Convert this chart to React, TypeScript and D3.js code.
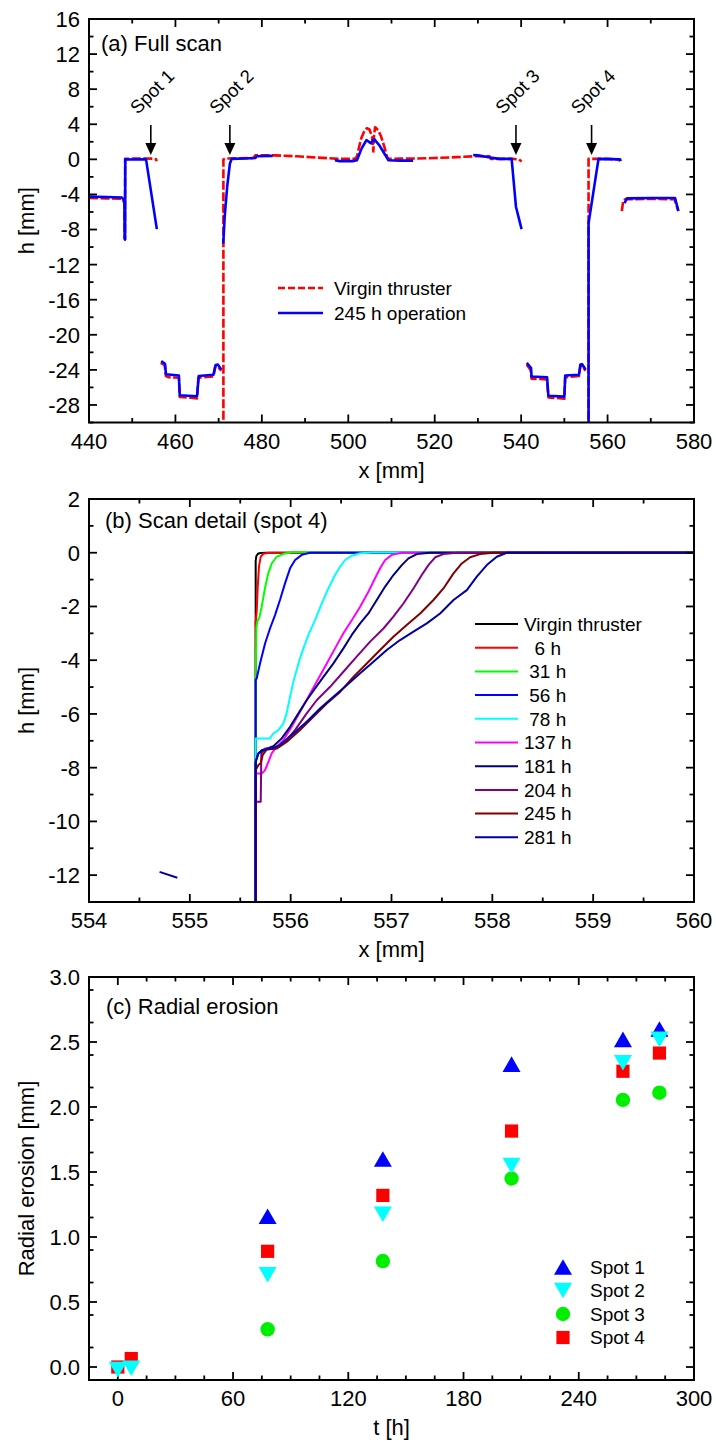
import React from 'react';
import * as d3 from 'd3';

type Pt = [number, number];

// ---------------- Panel (a): full scan ----------------
const scanXTicks = [440, 460, 480, 500, 520, 540, 560, 580];
const scanHTicks = [16, 12, 8, 4, 0, -4, -8, -12, -16, -20, -24, -28];
const scanXDomain: Pt = [440, 580];
const scanHDomain: Pt = [-30, 16];

const virginScan: Pt[][] = [
  [[440, -4.4], [444, -4.45], [447.6, -4.5], [448.0, -4.75], [448.2, -5.0], [448.25, -9.0], [448.32, -9.1], [448.35, 0.05], [450, 0.08], [453, 0.1], [455, 0.08], [455.5, 0.0], [455.7, -0.2]],
  [[456.6, -23.2], [457.5, -23.45], [457.8, -24.7], [458.5, -24.85], [460.8, -24.9], [461.0, -27.1], [463, -27.15], [465.0, -27.25], [465.3, -24.9], [468.8, -24.75], [469.2, -23.65], [469.8, -23.6], [470.6, -24.1]],
  [[471.1, -31], [471.1, 0.0], [471.6, 0.1], [478, 0.15], [478.5, 0.45], [483, 0.45], [488, 0.35], [493, 0.2], [498, 0.05], [501.5, 0.05], [502.0, 0.3], [502.4, 1.2], [503.0, 2.4], [503.7, 3.2], [504.3, 3.55], [504.9, 3.4], [505.5, 2.6], [505.8, 0.9], [505.95, 2.7], [506.2, 3.65], [506.9, 3.35], [507.6, 2.6], [508.3, 1.5], [508.9, 0.4], [509.2, 0.05], [512, 0.1], [516, 0.1], [520, 0.15], [525, 0.25], [529, 0.35], [532.7, 0.35], [533, 0.05], [538, 0.05], [539.5, 0.0], [540.1, -0.25]],
  [[541.3, -23.4], [542.2, -24.0], [542.4, -25.0], [546.0, -25.1], [546.3, -27.15], [548, -27.2], [550.0, -27.3], [550.2, -24.85], [553.4, -24.7], [553.7, -23.6], [554.1, -23.5], [554.9, -24.1]],
  [[555.6, -31], [555.6, 0.05], [557, 0.05], [560, 0.05], [562.5, 0.0], [562.9, -0.2]],
  [[563.3, -5.9], [563.6, -4.8], [564.0, -4.55], [570, -4.5], [575.5, -4.55], [576.3, -5.8]],
];

const operatedScan: Pt[][] = [
  [[440, -4.25], [444, -4.3], [447.6, -4.35], [448.0, -4.6], [448.2, -4.9], [448.25, -9.0], [448.35, -9.15], [448.4, 0.0], [450, -0.02], [453.2, 0.0], [455.7, -7.95]],
  [[456.7, -23.0], [457.6, -23.3], [457.8, -24.5], [460.8, -24.65], [461.0, -26.9], [465.0, -27.0], [465.4, -24.7], [468.8, -24.55], [469.3, -23.45], [469.8, -23.4], [470.6, -23.95]],
  [[471.05, -9.6], [471.2, -8.5], [471.4, -6.5], [472.0, -3.0], [472.6, -0.5], [473.0, 0.05], [476, 0.1], [478.5, 0.15], [478.8, 0.35], [482.5, 0.4]],
  [[496.9, -0.1], [498, -0.2], [501, -0.2], [502, -0.1], [503.1, 1.25], [504.2, 2.2], [505.2, 1.85], [506.0, 2.3], [507.2, 1.6], [508.1, 0.87], [509.3, -0.1], [512, -0.15], [515, -0.15]],
  [[528.9, 0.5], [530, 0.45], [532.8, 0.2], [535, 0.05], [537.8, 0.05], [538.8, -5.4], [540.1, -7.95]],
  [[541.3, -23.2], [542.3, -23.8], [542.4, -24.75], [546.0, -24.85], [546.3, -26.95], [550.0, -27.05], [550.2, -24.65], [553.4, -24.55], [553.7, -23.4], [554.1, -23.35], [554.9, -23.95]],
  [[555.6, -31], [555.6, -7.3], [557.9, 0.05], [562.9, 0.0], [563.05, -0.2]],
  [[563.9, -5.0], [564.5, -4.45], [570, -4.4], [575.6, -4.4], [576.4, -5.9]],
];

const spotNames = ['Spot 1', 'Spot 2', 'Spot 3', 'Spot 4'];
const spotPositions = [454.3, 472.6, 538.8, 556.3];
const scanLegend = ['Virgin thruster', '245 h operation'];

// ---------------- Panel (b): scan detail ----------------
const detailXTicks = [554, 555, 556, 557, 558, 559, 560];
const detailHTicks = [2, 0, -2, -4, -6, -8, -10, -12];
const detailXDomain: Pt = [554, 560];
const detailHDomain: Pt = [-13, 2];

const detailLabels = ['Virgin thruster', '  6 h', ' 31 h', ' 56 h', ' 78 h', '137 h', '181 h', '204 h', '245 h', '281 h'];
const detailColors = ['#000000', '#ff0000', '#00ff00', '#0000ff', '#00ffff', '#ff00ff', '#000080', '#800080', '#800000', '#0000a0'];

const profileVirgin: Pt[] = [[555.653, -13.5], [555.653, -0.3], [555.66, -0.12], [555.675, -0.04], [555.7, -0.01], [555.76, 0], [560, 0]];
const profile6: Pt[] = [[555.653, -13.5], [555.653, -2.57], [555.663, -2.2], [555.673, -1.3], [555.686, -0.5], [555.703, -0.15], [555.729, -0.04], [555.78, 0], [560, 0]];
const profile31: Pt[] = [[555.653, -13.5], [555.653, -4.74], [555.66, -2.8], [555.67, -2.55], [555.69, -2.4], [555.713, -2.0], [555.746, -1.3], [555.779, -0.75], [555.812, -0.4], [555.861, -0.15], [555.93, -0.04], [556.03, 0.03], [556.2, 0.01], [560, 0]];
const profile56: Pt[] = [[555.653, -13.5], [555.653, -4.74], [555.663, -4.68], [555.696, -4.12], [555.746, -3.38], [555.795, -2.82], [555.845, -2.32], [555.894, -1.76], [555.944, -1.14], [555.994, -0.58], [556.044, -0.27], [556.11, -0.08], [556.19, 0], [560, 0]];
const profile78: Pt[] = [[555.653, -13.5], [555.653, -6.91], [555.795, -6.91], [555.828, -6.73], [555.878, -6.6], [555.927, -6.36], [555.96, -5.98], [555.994, -5.36], [556.027, -4.8], [556.077, -4.12], [556.126, -3.56], [556.176, -3.06], [556.242, -2.51], [556.308, -1.89], [556.374, -1.33], [556.44, -0.83], [556.49, -0.52], [556.54, -0.27], [556.606, -0.11], [556.689, -0.02], [556.82, 0.01], [560, 0]];
const profile137: Pt[] = [[555.653, -13.5], [555.653, -8.22], [555.713, -8.22], [555.746, -8.09], [555.779, -7.78], [555.812, -7.47], [555.861, -7.22], [555.927, -6.98], [556.01, -6.48], [556.093, -5.92], [556.176, -5.36], [556.258, -4.8], [556.358, -4.12], [556.44, -3.56], [556.523, -3.0], [556.606, -2.51], [556.689, -2.01], [556.771, -1.45], [556.837, -0.95], [556.887, -0.58], [556.937, -0.27], [557.003, -0.08], [557.1, 0], [560, 0]];
const profile181: Pt[] = [[555.653, -13.5], [555.653, -7.78], [555.68, -7.47], [555.713, -7.35], [555.762, -7.29], [555.828, -7.2], [555.911, -6.91], [555.994, -6.48], [556.077, -5.98], [556.159, -5.49], [556.242, -5.05], [556.325, -4.62], [556.424, -4.12], [556.523, -3.56], [556.606, -3.06], [556.689, -2.63], [556.771, -2.26], [556.854, -1.76], [556.937, -1.26], [557.019, -0.83], [557.102, -0.46], [557.168, -0.21], [557.251, -0.05], [557.383, 0], [560, 0]];
const profile204: Pt[] = [[555.653, -13.5], [555.653, -9.27], [555.703, -9.27], [555.709, -7.47], [555.746, -7.29], [555.845, -7.29], [555.944, -7.04], [556.043, -6.6], [556.159, -5.98], [556.258, -5.49], [556.391, -4.99], [556.523, -4.43], [556.655, -3.87], [556.788, -3.31], [556.92, -2.82], [557.019, -2.38], [557.118, -1.89], [557.218, -1.33], [557.3, -0.83], [557.366, -0.46], [557.433, -0.17], [557.515, -0.05], [557.648, 0], [560, 0]];
const profile245: Pt[] = [[555.653, -13.5], [555.653, -8.09], [555.68, -7.9], [555.703, -7.84], [555.723, -7.53], [555.762, -7.32], [555.861, -7.29], [555.96, -7.04], [556.093, -6.6], [556.225, -6.11], [556.358, -5.61], [556.49, -5.18], [556.622, -4.62], [556.755, -4.12], [556.887, -3.62], [557.019, -3.13], [557.151, -2.69], [557.284, -2.26], [557.416, -1.76], [557.515, -1.33], [557.615, -0.77], [557.697, -0.4], [557.78, -0.17], [557.879, -0.05], [558.011, 0], [560, 0]];
const profile281: Pt[] = [[555.653, -13.5], [555.653, -7.78], [555.68, -7.47], [555.723, -7.35], [555.795, -7.3], [555.894, -7.16], [556.027, -6.73], [556.159, -6.29], [556.291, -5.8], [556.424, -5.36], [556.556, -4.93], [556.689, -4.49], [556.821, -4.06], [556.953, -3.62], [557.085, -3.25], [557.218, -2.94], [557.35, -2.63], [557.482, -2.26], [557.615, -1.76], [557.747, -1.39], [557.846, -0.89], [557.945, -0.46], [558.044, -0.15], [558.143, 0], [560, 0]];
const profile281Stray: Pt[] = [[554.7, -11.88], [554.876, -12.1]];

const detailProfiles: Pt[][][] = [
  [profileVirgin], [profile6], [profile31], [profile56], [profile78],
  [profile137], [profile181], [profile204], [profile245], [profile281, profile281Stray],
];

// ---------------- Panel (c): radial erosion ----------------
const timeTicks = [0, 60, 120, 180, 240, 300];
const erosionTicks = [0, 0.5, 1.0, 1.5, 2.0, 2.5, 3.0];
const timeDomain: Pt = [-15, 300];
const erosionDomain: Pt = [-0.1, 3.0];

const erosionTimes = [0, 7, 78, 138, 205, 263, 282];
const spot1Erosion = [null, null, 1.16, 1.60, 2.33, 2.52, 2.60];
const spot2Erosion = [-0.02, -0.01, 0.71, 1.175, 1.55, 2.34, 2.52];
const spot3Erosion = [null, null, 0.29, 0.815, 1.45, 2.055, 2.11];
const spot4Erosion = [0.0, 0.065, 0.89, 1.32, 1.815, 2.275, 2.415];

const FONT = "'Liberation Sans', Arial, Helvetica, sans-serif";
const L = 89, R = 694;
const RED_DASH = '9,2.5';

function fmtInt(v: number) { return String(v); }

function Frame(props: {
  x: d3.ScaleLinear<number, number>; y: d3.ScaleLinear<number, number>;
  xMajor: number[]; xMinor: number[]; yMajor: number[]; yMinor: number[];
  fx: (v: number) => string; fy: (v: number) => string;
  xTitle: string; yTitle: string;
}) {
  const { x, y, xMajor, xMinor, yMajor, yMinor, fx, fy, xTitle, yTitle } = props;
  const [l, r] = x.range();
  const [b, t] = y.range();
  const MJ = 8, MN = 4.5;
  const lines: JSX.Element[] = [];
  const addX = (v: number, len: number, k: string) => {
    lines.push(<line key={'bx' + k} x1={x(v)} x2={x(v)} y1={b} y2={b - len} />);
    lines.push(<line key={'tx' + k} x1={x(v)} x2={x(v)} y1={t} y2={t + len} />);
  };
  const addY = (v: number, len: number, k: string) => {
    lines.push(<line key={'ly' + k} x1={l} x2={l + len} y1={y(v)} y2={y(v)} />);
    lines.push(<line key={'ry' + k} x1={r} x2={r - len} y1={y(v)} y2={y(v)} />);
  };
  xMajor.forEach((v, i) => addX(v, MJ, 'M' + i));
  xMinor.forEach((v, i) => addX(v, MN, 'm' + i));
  yMajor.forEach((v, i) => addY(v, MJ, 'M' + i));
  yMinor.forEach((v, i) => addY(v, MN, 'm' + i));
  return (
    <g>
      <g stroke="#000" strokeWidth={1.8}>{lines}</g>
      <rect x={l} y={t} width={r - l} height={b - t} fill="none" stroke="#000" strokeWidth={2} />
      <g fontSize={22} fill="#000">
        {xMajor.map((v, i) => (
          <text key={'xl' + i} x={x(v)} y={b + 26} textAnchor="middle">{fx(v)}</text>
        ))}
        {yMajor.map((v, i) => (
          <text key={'yl' + i} x={l - 9} y={y(v)} dy="0.36em" textAnchor="end">{fy(v)}</text>
        ))}
        <text x={(l + r) / 2} y={b + 55} textAnchor="middle">{xTitle}</text>
        <text transform={`translate(34,${(t + b) / 2}) rotate(-90)`} textAnchor="middle">{yTitle}</text>
      </g>
    </g>
  );
}

function minorTicks(start: number, stop: number, step: number, majors: number[]) {
  const out: number[] = [];
  const n = Math.round((stop - start) / step);
  for (let i = 0; i <= n; i++) {
    const v = +(start + i * step).toFixed(6);
    if (!majors.some(m => Math.abs(m - v) < 1e-6)) out.push(v);
  }
  return out;
}

function PanelA() {
  const x = d3.scaleLinear().domain(scanXDomain).range([L, R]);
  const y = d3.scaleLinear().domain(scanHDomain).range([422.5, 19]);
  const line = d3.line<Pt>().x(d => x(d[0])).y(d => y(d[1]));
  return (
    <g>
      <defs>
        <clipPath id="clipA"><rect x={L} y={19} width={R - L} height={422.5 - 19} /></clipPath>
      </defs>
      <g clipPath="url(#clipA)" fill="none" strokeLinejoin="round">
        {virginScan.map((s, i) => (
          <path key={'v' + i} d={line(s) || ''} stroke="#ff0000" strokeWidth={2.6} strokeDasharray={RED_DASH} />
        ))}
        {operatedScan.map((s, i) => (
          <path key={'o' + i} d={line(s) || ''} stroke="#0000ff" strokeWidth={2.6} />
        ))}
      </g>
      <Frame x={x} y={y} xMajor={scanXTicks} xMinor={minorTicks(440, 580, 10, scanXTicks)}
        yMajor={scanHTicks} yMinor={minorTicks(-30, 16, 2, scanHTicks)} fx={fmtInt} fy={fmtInt}
        xTitle="x [mm]" yTitle="h [mm]" />
      <text x={101} y={51} fontSize={22}>(a) Full scan</text>
      {spotPositions.map((sx, i) => {
        const px = x(sx);
        return (
          <g key={'sp' + i}>
            <line x1={px} x2={px} y1={125} y2={145} stroke="#000" strokeWidth={1.6} />
            <path d={`M${px - 5.5},143L${px + 5.5},143L${px},155Z`} fill="#000" />
            <text transform={`translate(${px - 13},115) rotate(-45)`} fontSize={18.5}>{spotNames[i]}</text>
          </g>
        );
      })}
      <g fontSize={19}>
        <line x1={278} x2={323} y1={288} y2={288} stroke="#ff0000" strokeWidth={2.6} strokeDasharray="7,3" />
        <text x={334} y={288} dy="0.36em">{scanLegend[0]}</text>
        <line x1={278} x2={323} y1={313} y2={313} stroke="#0000ff" strokeWidth={2.6} />
        <text x={334} y={313} dy="0.36em">{scanLegend[1]}</text>
      </g>
    </g>
  );
}

function PanelB() {
  const top = 499, bottom = 902;
  const x = d3.scaleLinear().domain(detailXDomain).range([L, R]);
  const y = d3.scaleLinear().domain(detailHDomain).range([bottom, top]);
  const line = d3.line<Pt>().x(d => x(d[0])).y(d => y(d[1]));
  return (
    <g>
      <defs>
        <clipPath id="clipB"><rect x={L} y={top} width={R - L} height={bottom - top} /></clipPath>
      </defs>
      <g clipPath="url(#clipB)" fill="none" strokeLinejoin="round">
        {detailProfiles.map((segs, i) => segs.map((s, j) => (
          <path key={'p' + i + '_' + j} d={line(s) || ''} stroke={detailColors[i]} strokeWidth={2} />
        )))}
      </g>
      <Frame x={x} y={y} xMajor={detailXTicks} xMinor={minorTicks(554, 560, 0.5, detailXTicks)}
        yMajor={detailHTicks} yMinor={minorTicks(-13, 2, 1, detailHTicks)} fx={fmtInt} fy={fmtInt}
        xTitle="x [mm]" yTitle="h [mm]" />
      <text x={105} y={528} fontSize={22}>(b) Scan detail (spot 4)</text>
      <g fontSize={19}>
        {detailLabels.map((lab, i) => {
          const ly = 624 + i * 23.7;
          return (
            <g key={'lg' + i}>
              <line x1={475} x2={518} y1={ly} y2={ly} stroke={detailColors[i]} strokeWidth={2} />
              <text x={524} y={ly} dy="0.36em" style={{ whiteSpace: 'pre' }}>{lab}</text>
            </g>
          );
        })}
      </g>
    </g>
  );
}

function marker(kind: string, cx: number, cy: number, color: string, key: string) {
  if (kind === 'up') return <path key={key} d={`M${cx},${cy - 7.8}L${cx + 9},${cy + 7.8}L${cx - 9},${cy + 7.8}Z`} fill={color} />;
  if (kind === 'down') return <path key={key} d={`M${cx},${cy + 7.8}L${cx + 9},${cy - 7.8}L${cx - 9},${cy - 7.8}Z`} fill={color} />;
  if (kind === 'circle') return <circle key={key} cx={cx} cy={cy} r={7.2} fill={color} />;
  return <rect key={key} x={cx - 6.6} y={cy - 6.6} width={13.2} height={13.2} fill={color} />;
}

function PanelC() {
  const top = 977, bottom = 1380;
  const x = d3.scaleLinear().domain(timeDomain).range([L, R]);
  const y = d3.scaleLinear().domain(erosionDomain).range([bottom, top]);
  const series = [
    { name: 'Spot 1', vals: spot1Erosion, kind: 'up', color: '#0000ff' },
    { name: 'Spot 2', vals: spot2Erosion, kind: 'down', color: '#00ffff' },
    { name: 'Spot 3', vals: spot3Erosion, kind: 'circle', color: '#00ee00' },
    { name: 'Spot 4', vals: spot4Erosion, kind: 'square', color: '#ff0000' },
  ];
  const drawOrder = [0, 2, 3, 1];
  const legendY = [1267, 1290.5, 1314, 1337.5];
  return (
    <g>
      <Frame x={x} y={y} xMajor={timeTicks} xMinor={minorTicks(-15, 300, 15, timeTicks)}
        yMajor={erosionTicks} yMinor={minorTicks(-0.1, 3.0, 0.25, erosionTicks).filter(v => v > -0.05)}
        fx={fmtInt} fy={v => v.toFixed(1)} xTitle="t [h]" yTitle="Radial erosion [mm]" />
      {drawOrder.map(si => {
        const s = series[si];
        return (
          <g key={'s' + si}>
            {s.vals.map((v, i) => v == null ? null : marker(s.kind, x(erosionTimes[i]), y(v as number), s.color, 'm' + si + '_' + i))}
          </g>
        );
      })}
      <text x={106} y={1014} fontSize={22}>(c) Radial erosion</text>
      <g fontSize={19}>
        {series.map((s, i) => (
          <g key={'cl' + i}>
            {marker(s.kind, 563, legendY[i], s.color, 'lm' + i)}
            <text x={590} y={legendY[i]} dy="0.36em">{s.name}</text>
          </g>
        ))}
      </g>
    </g>
  );
}

export default function App() {
  return (
    <svg width={716} height={1452} viewBox="0 0 716 1452"
      style={{ position: 'absolute', left: 0, top: 0, background: '#fff' }}
      fontFamily={FONT}>
      <rect x={0} y={0} width={716} height={1452} fill="#fff" />
      <PanelA />
      <PanelB />
      <PanelC />
    </svg>
  );
}
